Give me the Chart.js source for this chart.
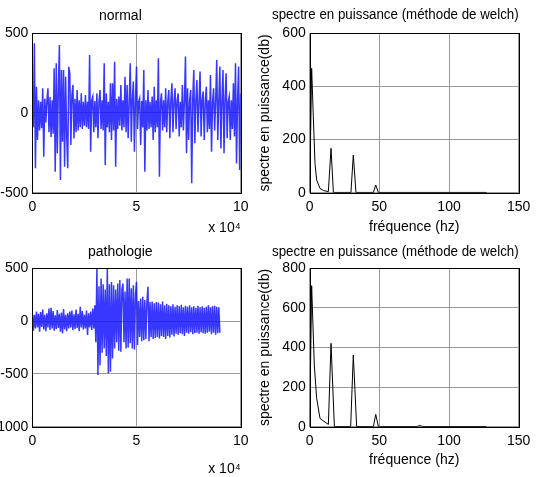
<!DOCTYPE html>
<html><head><meta charset="utf-8">
<script src="https://cdn.jsdelivr.net/npm/chart.js@4.4.1/dist/chart.umd.min.js"></script>
<style>
html,body{margin:0;padding:0;background:#fff;width:546px;height:477px;overflow:hidden;position:relative}
canvas{position:absolute}
</style></head><body>
<canvas id="c1" width="273" height="240" style="left:0px;top:0px"></canvas>
<canvas id="c2" width="296" height="240" style="left:250px;top:0px"></canvas>
<canvas id="c3" width="273" height="237" style="left:0px;top:240px"></canvas>
<canvas id="c4" width="296" height="237" style="left:250px;top:240px"></canvas>
<script>
// ---- data ----
const SAMPLE_STEP = 0.05; // spacing of points along the time axis (x 10^4 samples)

const normalSignal = [
 60,-90,437,-347,165,-170,80,-110,70,-95,
 155,-274,90,-60,75,155,-120,100,-150,80,
 -130,280,-368,312,-253,150,427,-420,270,-180,
 270,-337,228,-140,-347,290,249,-200,110,176,
 -160,90,-120,144,-110,80,-90,123,-100,70,
 -80,113,-90,70,-100,364,-243,80,103,-120,
 75,-90,123,-159,70,144,-100,80,-110,312,
 -326,123,-90,70,-120,186,-169,186,-110,322,
 -337,90,-100,103,-80,176,-110,80,-90,228,
 -120,176,-159,70,312,-180,90,197,-243,80,
 291,-100,70,92,-201,75,-90,270,-368,80,
 -110,144,-100,70,-90,103,-169,165,-120,80,
 -90,343,-400,70,123,-110,80,-90,155,-120,
 70,144,-159,80,186,-120,70,155,-100,80,
 123,-148,70,-90,176,-110,80,354,-253,155,
 -169,80,144,-441,90,270,-190,80,207,-120,
 70,260,-148,80,134,-169,70,165,-120,80,
 -100,239,-243,70,155,-110,80,333,-169,70,
 291,-222,80,270,-253,90,249,-159,70,103,
 -169,80,-100,186,-148,312,-316,90,291,-357,
 123
];

const pathologySignal = [
 80,-90,60,-70,90,-60,70,-100,85,-55,
 110,-80,60,-95,75,-60,120,-85,126,-70,
 95,-90,55,-75,105,-65,70,-100,80,-117,
 115,-80,60,-95,75,-70,90,-60,100,-85,
 65,-75,110,-65,70,-95,136,-60,95,-80,
 60,-70,100,-132,75,-60,90,-85,120,-70,
 150,-200,500,-511,330,-420,404,-300,350,-260,
 300,-330,500,-495,350,-480,370,-353,340,-260,
 300,-200,355,-280,388,-290,300,355,-200,280,
 -260,404,-250,404,-210,310,-260,340,-270,250,
 372,-227,190,-150,215,-190,230,-180,200,-170,
 180,325,-190,180,-150,185,-170,170,-160,180,
 -150,175,-165,160,-140,185,-150,150,-170,165,
 -140,150,-155,140,-130,160,-145,135,-120,150,
 -130,140,-115,155,-125,130,-140,145,-110,135,
 -120,150,-105,130,-125,140,-115,125,-110,145,
 -120,130,-105,140,-115,125,-120,135,-110,150,
 -100,130,-125,140,-110,145,-130,135,-115,130,
 -110
];

const normalFreq = [0, 1.4, 2.6, 3.8, 5.0, 7.4, 10, 13.4, 15.3, 17, 29.6, 31.3, 33.2, 45.7, 47.4, 49.3, 127];
const normalPsd  = [0, 468, 286, 110, 48, 16, 8, 4, 167, 1, 1, 142, 1, 1, 29, 1, 1];

const pathoFreq = [0, 1.4, 3.3, 5.0, 7.4, 9.8, 13.4, 15.3, 17.7, 29.4, 31.3, 33.7, 45.7, 47.4, 49.3, 77, 79, 81, 127];
const pathoPsd  = [0, 712, 311, 143, 42, 29, 12, 421, 1, 1, 362, 1, 1, 62, 1, 1, 6, 1, 1];

const signalXTicks = [0, 5, 10];
const normalYTicks = [-500, 0, 500];
const pathoYTicks = [-1000, -500, 0, 500];
const freqXTicks = [0, 50, 100, 150];
const normalPsdTicks = [0, 200, 400, 600];
const pathoPsdTicks = [0, 200, 400, 600, 800];

const titles = ['normal', 'spectre en puissance (méthode de welch)', 'pathologie', 'spectre en puissance (méthode de welch)'];
const xTitleSignal = 'x 10\u2074';
const xTitleFreq = 'fréquence (hz)';
const yTitlePsd = 'spectre en puissance(db)';

// ---- rendering ----
Chart.defaults.font.family = "'Liberation Sans', Arial, sans-serif";
Chart.defaults.font.size = 14;
Chart.defaults.color = '#000';

const framePlugin = {
  id: 'frame',
  afterDatasetsDraw(chart) {
    const {ctx, chartArea: a} = chart;
    ctx.save();
    ctx.strokeStyle = '#000';
    ctx.lineWidth = 1;
    const l = Math.round(a.left) + 0.5, t = Math.round(a.top) + 0.5;
    ctx.strokeRect(l, t, Math.round(a.right) - Math.round(a.left), Math.round(a.bottom) - Math.round(a.top));
    ctx.restore();
  }
};

function tickSetter(arr) {
  return s => { s.ticks = arr.map(v => ({value: v})); };
}

function makeChart(id, o) {
  return new Chart(document.getElementById(id), {
    type: 'line',
    data: { datasets: [{
      data: o.data,
      borderColor: o.color,
      borderWidth: o.lineWidth,
      pointRadius: 0,
      tension: 0,
      fill: false
    }]},
    options: {
      responsive: false,
      animation: false,
      devicePixelRatio: 1,
      layout: { padding: o.layoutPadding },
      plugins: {
        legend: { display: false },
        tooltip: { enabled: false },
        title: {
          display: true,
          text: o.title,
          color: '#000',
          font: { size: 14, weight: 'normal' },
          padding: o.titlePad
        }
      },
      scales: {
        x: {
          type: 'linear',
          min: o.xMin, max: o.xMax,
          afterBuildTicks: tickSetter(o.xTicks),
          afterFit: s => { s.height = o.xHeight; },
          grid: { color: '#9a9a9a', drawTicks: false, lineWidth: 1 },
          border: { display: false },
          ticks: { padding: 6, maxRotation: 0, autoSkip: false, color: '#000', font: { size: 14 },
                   callback: v => String(v) },
          title: {
            display: true, text: o.xTitle, align: o.xTitleAlign, color: '#000',
            font: { size: 14 }, padding: { top: 0, bottom: o.xTitlePadBottom }
          }
        },
        y: {
          type: 'linear',
          min: o.yMin, max: o.yMax,
          afterBuildTicks: tickSetter(o.yTicks),
          afterFit: s => { s.width = o.yWidth; },
          grid: { color: '#9a9a9a', drawTicks: false, lineWidth: 1 },
          border: { display: false },
          ticks: { padding: 4, autoSkip: false, color: '#000', font: { size: 14 },
                   callback: v => String(v) },
          title: o.yTitle ? {
            display: true, text: o.yTitle, color: '#000', font: { size: 14 },
            padding: { top: o.yTitlePadTop, bottom: 0 }
          } : { display: false }
        }
      }
    },
    plugins: [framePlugin]
  });
}

const sigColor = 'rgba(20,20,255,0.85)';
const toXY = (vals) => vals.map((v, i) => ({x: i * SAMPLE_STEP, y: v}));
const pairXY = (xs, ys) => xs.map((x, i) => ({x: x, y: ys[i]}));

makeChart('c1', {
  title: titles[0], titlePad: {top: 7.8, bottom: 8.7},
  layoutPadding: {left: 0, right: 32.3, top: 0, bottom: 0},
  data: toXY(normalSignal), color: sigColor, lineWidth: 1.5,
  xMin: 0, xMax: 10, xTicks: signalXTicks, xHeight: 47.3,
  xTitle: xTitleSignal, xTitleAlign: 'end', xTitlePadBottom: 3.6,
  yMin: -500, yMax: 500, yTicks: normalYTicks, yWidth: 32.3
});

makeChart('c2', {
  title: titles[1], titlePad: {top: 6.6, bottom: 9.9},
  layoutPadding: {left: 22, right: 27.3, top: 0, bottom: 0},
  data: pairXY(normalFreq, normalPsd), color: '#000', lineWidth: 1,
  xMin: 0, xMax: 150, xTicks: freqXTicks, xHeight: 47.3,
  xTitle: xTitleFreq, xTitleAlign: 'center', xTitlePadBottom: 4.9,
  yMin: 0, yMax: 600, yTicks: normalPsdTicks, yWidth: 37.7,
  yTitle: yTitlePsd, yTitlePadTop: -15.4
});

makeChart('c3', {
  title: titles[2], titlePad: {top: 3.3, bottom: 8.2},
  layoutPadding: {left: 0, right: 32.3, top: 0, bottom: 0},
  data: toXY(pathologySignal), color: sigColor, lineWidth: 1.5,
  xMin: 0, xMax: 10, xTicks: signalXTicks, xHeight: 50.3,
  xTitle: xTitleSignal, xTitleAlign: 'end', xTitlePadBottom: -0.7,
  yMin: -1000, yMax: 500, yTicks: pathoYTicks, yWidth: 32.3
});

makeChart('c4', {
  title: titles[3], titlePad: {top: 3.3, bottom: 8.2},
  layoutPadding: {left: 22, right: 27.3, top: 0, bottom: 0},
  data: pairXY(pathoFreq, pathoPsd), color: '#000', lineWidth: 1,
  xMin: 0, xMax: 150, xTicks: freqXTicks, xHeight: 50.3,
  xTitle: xTitleFreq, xTitleAlign: 'center', xTitlePadBottom: 8.6,
  yMin: 0, yMax: 800, yTicks: pathoPsdTicks, yWidth: 37.7,
  yTitle: yTitlePsd, yTitlePadTop: -15.4
});
</script>
</body></html>
